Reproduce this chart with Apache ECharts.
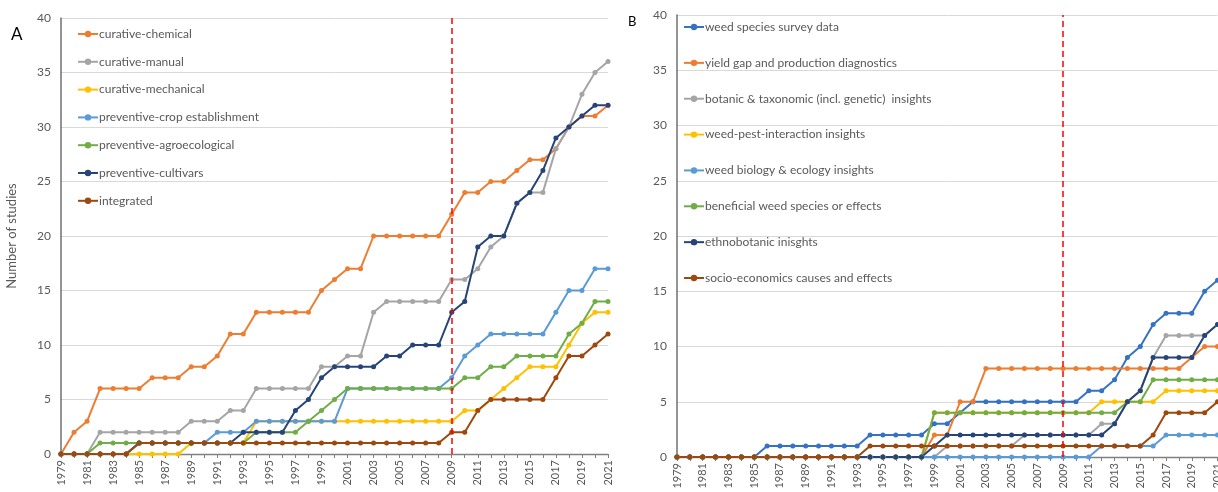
<!DOCTYPE html>
<html><head><meta charset="utf-8">
<script src="https://cdn.jsdelivr.net/npm/echarts@6/dist/echarts.min.js"></script>
<style>html,body{margin:0;padding:0;background:#fff;overflow:hidden}#c{width:1218px;height:492px}</style>
</head><body><div id="c"></div><script>
const years = ['1979','1980','1981','1982','1983','1984','1985','1986','1987','1988','1989','1990','1991','1992','1993','1994','1995','1996','1997','1998','1999','2000','2001','2002','2003','2004','2005','2006','2007','2008','2009','2010','2011','2012','2013','2014','2015','2016','2017','2018','2019','2020','2021'];
const markYear = '2009';
const yAxisTitle = 'Number of studies';

// Panel A
const namesA = ['curative-chemical','curative-manual','curative-mechanical','preventive-crop establishment','preventive-agroecological','preventive-cultivars','integrated'];
const curativeChemical   = [0,2,3,6,6,6,6,7,7,7,8,8,9,11,11,13,13,13,13,13,15,16,17,17,20,20,20,20,20,20,22,24,24,25,25,26,27,27,28,30,31,31,32];
const curativeManual     = [0,0,0,2,2,2,2,2,2,2,3,3,3,4,4,6,6,6,6,6,8,8,9,9,13,14,14,14,14,14,16,16,17,19,20,23,24,24,28,30,33,35,36];
const curativeMechanical = [0,0,0,0,0,0,0,0,0,0,1,1,1,1,1,3,3,3,3,3,3,3,3,3,3,3,3,3,3,3,3,4,4,5,6,7,8,8,8,10,12,13,13];
const preventiveCrop     = [0,0,0,0,0,0,1,1,1,1,1,1,2,2,2,3,3,3,3,3,3,3,6,6,6,6,6,6,6,6,7,9,10,11,11,11,11,11,13,15,15,17,17];
const preventiveAgro     = [0,0,0,1,1,1,1,1,1,1,1,1,1,1,1,2,2,2,2,3,4,5,6,6,6,6,6,6,6,6,6,7,7,8,8,9,9,9,9,11,12,14,14];
const preventiveCultivars= [0,0,0,0,0,0,1,1,1,1,1,1,1,1,2,2,2,2,4,5,7,8,8,8,8,9,9,10,10,10,13,14,19,20,20,23,24,26,29,30,31,32,32];
const integrated         = [0,0,0,0,0,0,1,1,1,1,1,1,1,1,1,1,1,1,1,1,1,1,1,1,1,1,1,1,1,1,2,2,4,5,5,5,5,5,7,9,9,10,11];
const dataA = [curativeChemical,curativeManual,curativeMechanical,preventiveCrop,preventiveAgro,preventiveCultivars,integrated];

// Panel B
const namesB = ['weed species survey data','yield gap and production diagnostics','botanic & taxonomic (incl. genetic)  insights','weed-pest-interaction insights','weed biology & ecology insights','beneficial weed species or effects','ethnobotanic inisghts','socio-economics causes and effects'];
const surveyData   = [0,0,0,0,0,0,0,1,1,1,1,1,1,1,1,2,2,2,2,2,3,3,4,5,5,5,5,5,5,5,5,5,6,6,7,9,10,12,13,13,13,15,16];
const yieldGap     = [0,0,0,0,0,0,0,0,0,0,0,0,0,0,0,0,0,0,0,0,2,2,5,5,8,8,8,8,8,8,8,8,8,8,8,8,8,8,8,8,9,10,10];
const botanic      = [0,0,0,0,0,0,0,0,0,0,0,0,0,0,0,0,0,0,0,0,0,1,1,1,1,1,1,2,2,2,2,2,2,3,3,5,6,9,11,11,11,11,12];
const weedPest     = [0,0,0,0,0,0,0,0,0,0,0,0,0,0,0,0,0,0,0,0,4,4,4,4,4,4,4,4,4,4,4,4,4,5,5,5,5,5,6,6,6,6,6];
const weedBiology  = [0,0,0,0,0,0,0,0,0,0,0,0,0,0,0,0,0,0,0,0,0,0,0,0,0,0,0,0,0,0,0,0,0,1,1,1,1,1,2,2,2,2,2];
const beneficial   = [0,0,0,0,0,0,0,0,0,0,0,0,0,0,0,0,0,0,0,0,4,4,4,4,4,4,4,4,4,4,4,4,4,4,4,5,5,7,7,7,7,7,7];
const ethnobotanic = [0,0,0,0,0,0,0,0,0,0,0,0,0,0,0,0,0,0,0,0,1,2,2,2,2,2,2,2,2,2,2,2,2,2,3,5,6,9,9,9,9,11,12];
const socioEcon    = [0,0,0,0,0,0,0,0,0,0,0,0,0,0,0,1,1,1,1,1,1,1,1,1,1,1,1,1,1,1,1,1,1,1,1,1,1,2,4,4,4,4,5];
const dataB = [surveyData,yieldGap,botanic,weedPest,weedBiology,beneficial,ethnobotanic,socioEcon];

const colorsA = ['#ED7D31','#A5A5A5','#FFC000','#5B9BD5','#70AD47','#264478','#9E480E'];
const colorsB = ['#3672C4','#ED7D31','#A5A5A5','#FFC000','#5B9BD5','#70AD47','#264478','#9E480E'];

const FONT = 'Lato, "Open Sans", sans-serif';
const chart = echarts.init(document.getElementById('c'), null, {renderer:'canvas'});

function xAx(gi){
  return {type:'category', gridIndex:gi, data:years, boundaryGap:false,
    axisLine:{show:true, lineStyle:{color:'#808080', width:1.3}},
    axisTick:{show:true, interval:0, length:4, lineStyle:{color:'#808080'}},
    axisLabel:{interval:1, rotate:90, fontSize:11, color:'#595959', margin:6, fontFamily:FONT, hideOverlap:false},
    splitLine:{show:false}};
}
function yAx(gi, withName){
  const a = {type:'value', gridIndex:gi, min:0, max:40, interval:5,
    axisLine:{show:true, lineStyle:{color:'#6f6f6f', width:1.5}},
    axisTick:{show:false},
    axisLabel:{fontSize:12, color:'#595959', margin:10, fontFamily:FONT},
    splitLine:{show:true, lineStyle:{color:'#D9D9D9', width:1}}};
  if (withName){
    Object.assign(a, {name:yAxisTitle, nameLocation:'middle', nameGap:43,
      nameTextStyle:{fontSize:13, color:'#595959', fontFamily:FONT}});
  }
  return a;
}
const markLineCfg = {silent:true, symbol:['none','none'], label:{show:false},
  lineStyle:{color:'#FF0000', type:[6,4], width:1.5}, data:[{xAxis:markYear}]};

const series = [];
namesA.forEach((n,i)=>{
  const s = {name:n, type:'line', xAxisIndex:0, yAxisIndex:0, data:dataA[i],
    symbol:'circle', symbolSize:5, color:colorsA[i],
    lineStyle:{width:2, color:colorsA[i]}, itemStyle:{color:colorsA[i]}, animation:false};
  if (i===namesA.length-1) s.markLine = markLineCfg;
  series.push(s);
});
namesB.forEach((n,i)=>{
  const s = {name:n, type:'line', xAxisIndex:1, yAxisIndex:1, data:dataB[i],
    symbol:'circle', symbolSize:5, color:colorsB[i],
    lineStyle:{width:2, color:colorsB[i]}, itemStyle:{color:colorsB[i]}, animation:false};
  if (i===namesB.length-1) s.markLine = markLineCfg;
  series.push(s);
});

const legendText = {fontSize:12, color:'#595959', fontFamily:FONT, lineHeight:14, padding:[0,0,0,-4]};
chart.setOption({
  animation:false,
  textStyle:{fontFamily:FONT},
  grid:[{left:61, top:18, width:547, height:436, outerBoundsMode:'none', containLabel:false},
        {left:677, top:15, width:540.5, height:442, outerBoundsMode:'none', containLabel:false}],
  xAxis:[xAx(0), xAx(1)],
  yAxis:[yAx(0,true), yAx(1,false)],
  legend:[
    {data:namesA, orient:'vertical', left:77, top:27, padding:0, itemWidth:20, itemHeight:8, itemGap:13.8, textStyle:legendText, selectedMode:false},
    {data:namesB, orient:'vertical', left:683, top:20, padding:0, itemWidth:20, itemHeight:8, itemGap:21.86, textStyle:legendText, selectedMode:false}
  ],
  graphic:[
    {type:'text', left:11, top:26, style:{text:'A', fontSize:17, fill:'#000', fontFamily:FONT}},
    {type:'text', left:628, top:15, style:{text:'B', fontSize:13, fill:'#000', fontFamily:FONT}}
  ],
  series:series
});
</script></body></html>
